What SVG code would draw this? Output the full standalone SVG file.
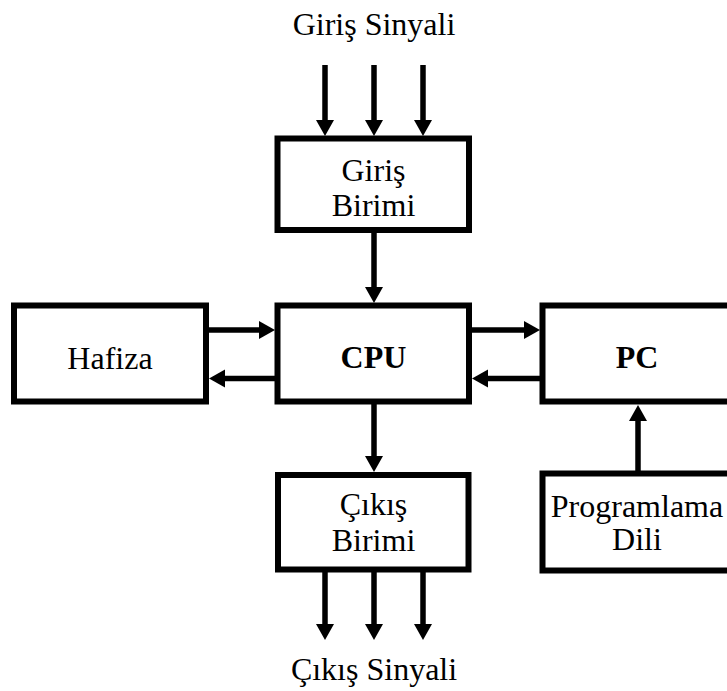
<svg xmlns="http://www.w3.org/2000/svg" width="727" height="691" viewBox="0 0 727 691">
  <style>
    .box { fill: #ffffff; stroke: #000000; stroke-width: 6; }
    text { font-family: 'Liberation Serif', 'DejaVu Serif', serif; font-size: 32px; fill: #000000; text-anchor: middle; }
    .bold { font-weight: bold; }
    .wire { stroke: #000000; stroke-width: 5.5; fill: none; marker-end: url(#head); }
  </style>
  <defs>
    <marker id="head" markerUnits="userSpaceOnUse" markerWidth="16" markerHeight="18" refX="4" refY="9" orient="auto" overflow="visible">
      <path d="M0,0 L16,9 L0,18 Z" fill="#000000"/>
    </marker>
  </defs>

  <rect width="727" height="691" fill="#ffffff"/>

  <text x="374" y="35" font-family="Liberation Serif, serif">Giriş Sinyali</text>
  <text x="374" y="680" font-family="Liberation Serif, serif">Çıkış Sinyali</text>

  <g id="giris-birimi">
    <rect class="box" x="277.5" y="138.5" width="191.5" height="91.5"/>
    <text x="373.5" y="181" font-family="Liberation Serif, serif">Giriş</text>
    <text x="373.5" y="216" font-family="Liberation Serif, serif">Birimi</text>
  </g>

  <g id="cpu">
    <rect class="box" x="277.5" y="305.5" width="191.5" height="96"/>
    <text class="bold" x="373.5" y="368" font-family="Liberation Serif, serif">CPU</text>
  </g>

  <g id="hafiza">
    <rect class="box" x="14" y="305.5" width="192" height="96"/>
    <text x="110" y="369" font-family="Liberation Serif, serif">Hafiza</text>
  </g>

  <g id="pc">
    <rect class="box" x="542.5" y="305.5" width="195" height="96"/>
    <text class="bold" x="637" y="368" font-family="Liberation Serif, serif">PC</text>
  </g>

  <g id="cikis-birimi">
    <rect class="box" x="278" y="475" width="190.5" height="94.5"/>
    <text x="373.5" y="515" font-family="Liberation Serif, serif">Çıkış</text>
    <text x="373.5" y="551" font-family="Liberation Serif, serif">Birimi</text>
  </g>

  <g id="programlama-dili">
    <rect class="box" x="542.5" y="473.5" width="195" height="97"/>
    <text x="637" y="517" font-family="Liberation Serif, serif">Programlama</text>
    <text x="637" y="550" font-family="Liberation Serif, serif">Dili</text>
  </g>

  <g id="connectors">
    <!-- input signal lines -->
    <line class="wire" x1="325" y1="65" x2="325" y2="124"/>
    <line class="wire" x1="374" y1="65" x2="374" y2="124"/>
    <line class="wire" x1="423" y1="65" x2="423" y2="124"/>
    <!-- input unit to CPU -->
    <line class="wire" x1="374" y1="233" x2="374" y2="291"/>
    <!-- CPU to output unit -->
    <line class="wire" x1="374" y1="404" x2="374" y2="460"/>
    <!-- output signal lines -->
    <line class="wire" x1="325" y1="572" x2="325" y2="628"/>
    <line class="wire" x1="374" y1="572" x2="374" y2="628"/>
    <line class="wire" x1="423" y1="572" x2="423" y2="628"/>
    <!-- memory <-> CPU -->
    <line class="wire" x1="209" y1="330" x2="263" y2="330"/>
    <line class="wire" x1="275" y1="378.5" x2="221" y2="378.5"/>
    <!-- CPU <-> PC -->
    <line class="wire" x1="472" y1="330" x2="528" y2="330"/>
    <line class="wire" x1="540" y1="378.5" x2="484" y2="378.5"/>
    <!-- programming language to PC -->
    <line class="wire" x1="638" y1="471" x2="638" y2="417"/>
  </g>
</svg>
